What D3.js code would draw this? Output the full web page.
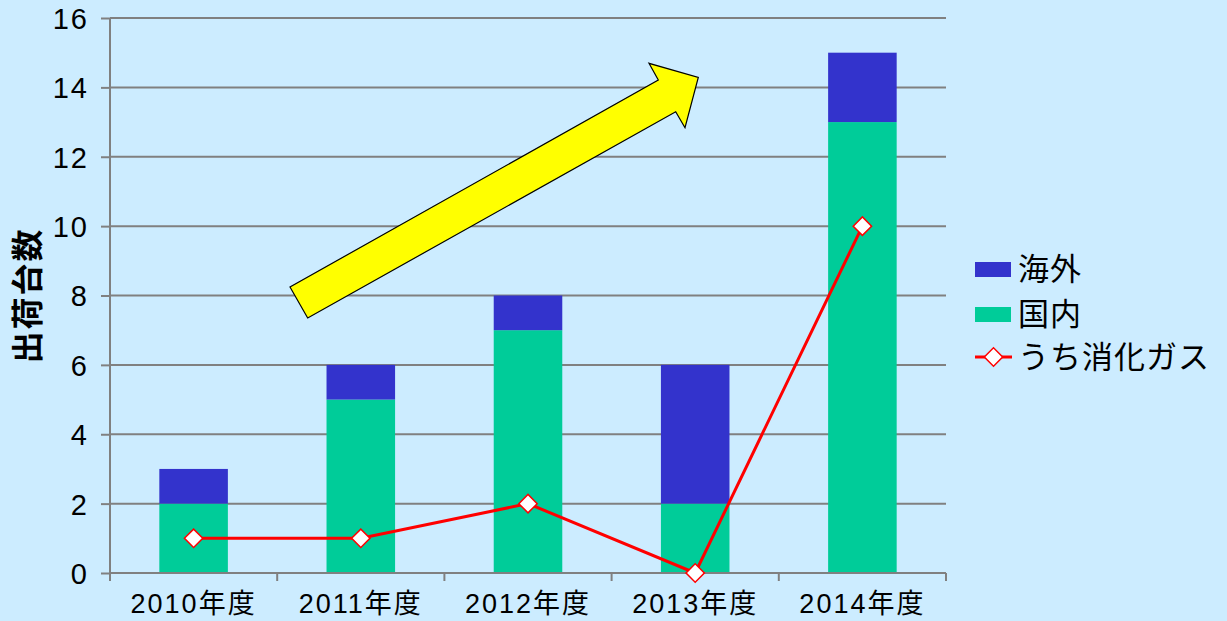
<!DOCTYPE html>
<html>
<head>
<meta charset="utf-8">
<script src="https://cdn.jsdelivr.net/npm/d3@7"></script>
<style>
  body { margin: 0; background: #CCECFF; }
  svg { display: block; }
  text { font-family: "Liberation Sans", "Noto Sans CJK JP", sans-serif; fill: #000; }
</style>
</head>
<body>
<svg></svg>
<script>
// Data
const years = ["2010年度", "2011年度", "2012年度", "2013年度", "2014年度"];
const domestic = [2, 5, 7, 2, 13];   // 国内
const overseas = [1, 1, 1, 4, 2];    // 海外
const digestion = [1, 1, 2, 0, 10];  // うち消化ガス
const yTicks = [0, 2, 4, 6, 8, 10, 12, 14, 16];

const seriesNames = ["海外", "国内", "うち消化ガス"];
const colors = { overseas: "#3333CC", domestic: "#00CC99", line: "#FF0000" };

// Chart dimensions
const svgWidth = 1227;
const svgHeight = 621;
const margin = { top: 18, right: 281, bottom: 48, left: 110 };
const w = svgWidth - margin.left - margin.right;
const h = svgHeight - margin.top - margin.bottom;

const root = d3.select("svg")
    .attr("width", svgWidth)
    .attr("height", svgHeight);

root.append("rect")
    .attr("width", svgWidth)
    .attr("height", svgHeight)
    .attr("fill", "#CCECFF");

const svg = root.append("g")
    .attr("transform", `translate(${margin.left}, ${margin.top})`);

// Scales
const xScale = d3.scaleBand()
    .domain(years)
    .range([0, w])
    .paddingInner(0.59)
    .paddingOuter(0.295);

const yScale = d3.scaleLinear()
    .domain([0, 16])
    .range([h, 0]);

// Gridlines
svg.append("g")
    .selectAll("line")
    .data(yTicks.filter(d => d > 0))
    .enter()
    .append("line")
    .attr("x1", 0)
    .attr("x2", w)
    .attr("y1", d => yScale(d))
    .attr("y2", d => yScale(d))
    .attr("stroke", "#808080")
    .attr("stroke-width", 2);

// Stacked bars
const stackData = years.map((y, i) => ({ year: y, domestic: domestic[i], overseas: overseas[i] }));

svg.selectAll(".bar-dom")
    .data(stackData)
    .enter()
    .append("rect")
    .attr("class", "bar-dom")
    .attr("x", d => xScale(d.year))
    .attr("y", d => yScale(d.domestic))
    .attr("width", xScale.bandwidth())
    .attr("height", d => h - yScale(d.domestic))
    .attr("fill", colors.domestic);

svg.selectAll(".bar-ovs")
    .data(stackData)
    .enter()
    .append("rect")
    .attr("class", "bar-ovs")
    .attr("x", d => xScale(d.year))
    .attr("y", d => yScale(d.domestic + d.overseas))
    .attr("width", xScale.bandwidth())
    .attr("height", d => yScale(d.domestic) - yScale(d.domestic + d.overseas))
    .attr("fill", colors.overseas);

// Axes
const yAxis = d3.axisLeft(yScale).tickValues(yTicks).tickSize(9).tickPadding(12);
const gy = svg.append("g").attr("class", "y-axis").call(yAxis);
gy.select(".domain").attr("stroke", "#808080").attr("stroke-width", 2).attr("d", `M0,${h}V0`);
gy.selectAll(".tick line").attr("stroke", "#808080").attr("stroke-width", 2);
gy.selectAll(".tick text")
    .style("font-size", "29px")
    .style("letter-spacing", "2px")
    .attr("dy", "0.36em");

const xAxis = d3.axisBottom(xScale).tickSize(0).tickPadding(21);
const gx = svg.append("g")
    .attr("class", "x-axis")
    .attr("transform", `translate(0, ${h})`)
    .call(xAxis);
gx.select(".domain").attr("stroke", "#808080").attr("stroke-width", 2).attr("d", `M0,0H${w}`);
gx.selectAll(".tick text")
    .style("font-size", "27px")
    .style("letter-spacing", "2px");

// Ticks at band boundaries
const step = xScale.step();
const boundaries = d3.range(years.length + 1).map(i => xScale(years[0]) - xScale.step() * xScale.paddingOuter() + i * step);
gx.selectAll(".bound")
    .data(boundaries)
    .enter()
    .append("line")
    .attr("x1", d => d)
    .attr("x2", d => d)
    .attr("y1", 0)
    .attr("y2", 8)
    .attr("stroke", "#808080")
    .attr("stroke-width", 2);

// Line series
const line = d3.line()
    .x((d, i) => xScale(years[i]) + xScale.bandwidth() / 2)
    .y(d => yScale(d));

svg.append("path")
    .datum(digestion)
    .attr("fill", "none")
    .attr("stroke", colors.line)
    .attr("stroke-width", 3)
    .attr("d", line);

svg.selectAll(".marker")
    .data(digestion)
    .enter()
    .append("rect")
    .attr("class", "marker")
    .attr("x", -6.5)
    .attr("y", -6.5)
    .attr("width", 13)
    .attr("height", 13)
    .attr("transform", (d, i) => `translate(${xScale(years[i]) + xScale.bandwidth() / 2}, ${yScale(d)}) rotate(45)`)
    .attr("fill", "#fff")
    .attr("stroke", colors.line)
    .attr("stroke-width", 1.5);

// Y axis title
root.append("text")
    .attr("transform", `translate(39, ${margin.top + h / 2}) rotate(-90)`)
    .attr("text-anchor", "middle")
    .style("font-size", "32px")
    .style("font-weight", "bold")
    .style("letter-spacing", "2px")
    .text("出荷台数");

// Trend arrow annotation
const arrowPts = [[290, 287], [307.7, 318], [675.7, 111.7], [685, 127.7], [698.3, 77.3], [649, 63.3], [658.3, 80]];
root.append("polygon")
    .attr("points", arrowPts.map(p => p.join(",")).join(" "))
    .attr("fill", "#FFFF00")
    .attr("stroke", "#000")
    .attr("stroke-width", 1.2);

// Legend
const legend = root.append("g").attr("transform", "translate(975, 0)");
const legendRows = [
    { name: seriesNames[0], type: "rect", color: colors.overseas, y: 269 },
    { name: seriesNames[1], type: "rect", color: colors.domestic, y: 314 },
    { name: seriesNames[2], type: "line", color: colors.line, y: 357 }
];

legendRows.forEach(r => {
    if (r.type === "rect") {
        legend.append("rect")
            .attr("x", 0)
            .attr("y", r.y - 7)
            .attr("width", 36)
            .attr("height", 15)
            .attr("fill", r.color);
    } else {
        legend.append("line")
            .attr("x1", 0).attr("x2", 37)
            .attr("y1", r.y).attr("y2", r.y)
            .attr("stroke", r.color)
            .attr("stroke-width", 3);
        legend.append("rect")
            .attr("x", -6.5).attr("y", -6.5)
            .attr("width", 13).attr("height", 13)
            .attr("transform", `translate(18.5, ${r.y}) rotate(45)`)
            .attr("fill", "#fff")
            .attr("stroke", r.color)
            .attr("stroke-width", 1.5);
    }
    legend.append("text")
        .attr("x", 43)
        .attr("y", r.y)
        .attr("dy", "0.36em")
        .style("font-size", "31px")
        .style("letter-spacing", "1px")
        .text(r.name);
});
</script>
</body>
</html>
